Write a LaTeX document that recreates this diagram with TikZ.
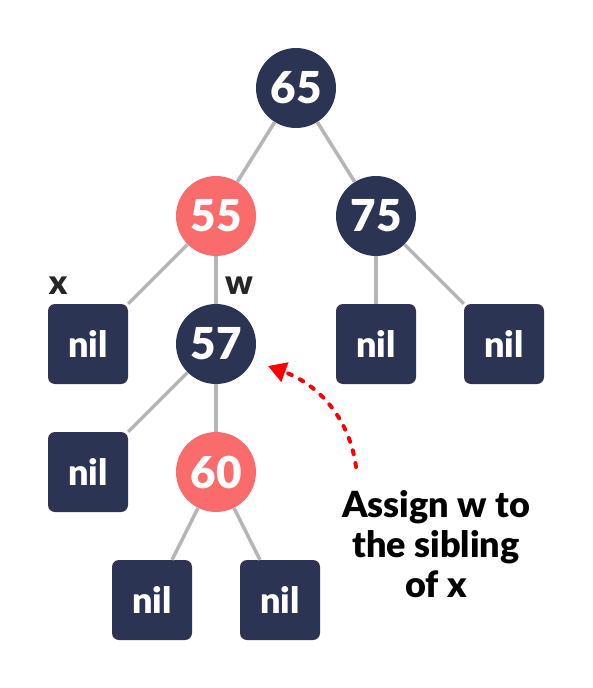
\documentclass[tikz,border=0pt]{standalone}
\usepackage{fontspec}
\setmainfont{Lato}
\newfontfamily\latob{Lato Black}
\usetikzlibrary{arrows.meta}
\definecolor{navy}{HTML}{2B3553}
\definecolor{salmon}{HTML}{FA6B6B}
\definecolor{edgegray}{HTML}{B5B5B5}
\definecolor{arrred}{HTML}{FF0000}
\begin{document}
\begin{tikzpicture}[x=1pt,y=-1pt,
  blacknode/.style={circle,fill=navy,minimum size=80pt,inner sep=0pt,text=white,font=\latob\fontsize{44}{44}\selectfont},
  rednode/.style={circle,fill=salmon,minimum size=80pt,inner sep=0pt,text=white,font=\latob\fontsize{44}{44}\selectfont},
  nilnode/.style={rectangle,rounded corners=7pt,fill=navy,minimum size=80pt,inner sep=0pt,text=white,font=\latob\fontsize{36}{36}\selectfont},
  edge/.style={draw=edgegray,line width=3.5pt},
  lbl/.style={font=\latob\fontsize{34}{34}\selectfont,text=black!85},
  note/.style={font=\latob\fontsize{36}{40}\selectfont,align=center,text=black}]
\useasboundingbox (0,0) rectangle (592,688);
\node[blacknode] (n65) at (296,88) {65};
\node[rednode] (n55) at (216,216) {55};
\node[blacknode] (n75) at (376,216) {75};
\node[nilnode] (nx) at (88,344) {nil};
\node[blacknode] (n57) at (216,344) {57};
\node[nilnode] (n75l) at (376,344) {nil};
\node[nilnode] (n75r) at (504,344) {nil};
\node[nilnode] (n57l) at (88,472) {nil};
\node[rednode] (n60) at (216,472) {60};
\node[nilnode] (n60l) at (152,600) {nil};
\node[nilnode] (n60r) at (280,600) {nil};
\foreach \a/\b in {n65/n55,n65/n75,n55/nx,n55/n57,n75/n75l,n75/n75r,n57/n57l,n57/n60,n60/n60l,n60/n60r}
  \draw[edge] (\a) -- (\b);
\node[lbl] (lx) at (58,286) {x};
\node[lbl] (lw) at (239,286) {w};
\node[note] (txt) at (436,544) {Assign w to\\the sibling\\of x};
\coordinate (as) at (356,467);
\coordinate (ae) at (268,366);
\draw[arrred,line width=4pt,line cap=round,dash pattern=on 4pt off 9pt,-{Triangle[length=18pt,width=20pt,line cap=butt]}] (as) .. controls (350,420) and (320,385) .. (ae);
\end{tikzpicture}
\end{document}
